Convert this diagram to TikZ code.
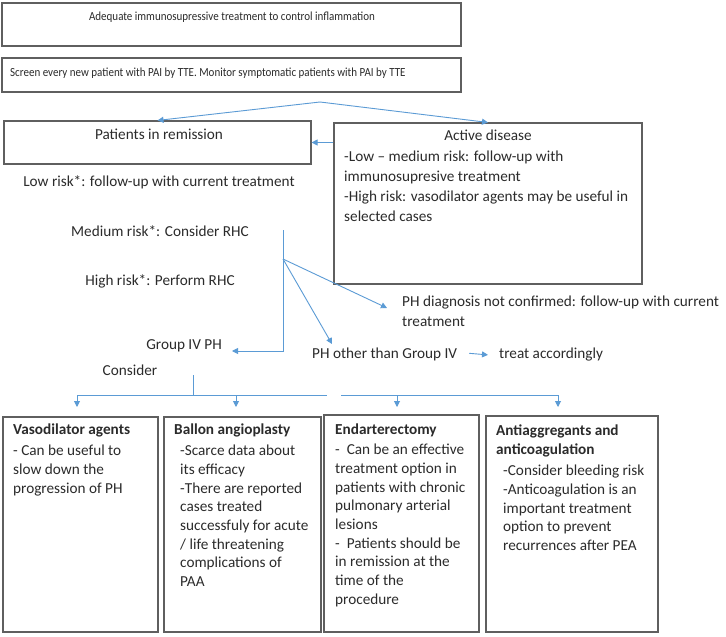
\documentclass[tikz,border=0pt]{standalone}
\usepackage{fontspec}
\setmainfont{Carlito}
\newfontfamily\condfont[FakeStretch=0.89]{Carlito}
\usetikzlibrary{arrows.meta}
\definecolor{arrowblue}{HTML}{5B9BD5}
\definecolor{boxgray}{HTML}{5F5F5F}
\definecolor{txtgray}{HTML}{2B2B2B}
\begin{document}
\begin{tikzpicture}[x=1bp,y=-1bp,
  frame/.style={draw=boxgray,line width=1.1bp,inner sep=0pt},
  conn/.style={draw=arrowblue,line width=0.9bp},
  arr/.style={conn,-{Triangle[length=6bp,width=6bp]}},
  txt/.style={text=txtgray,inner sep=0pt,font=\fontsize{15.3}{20}\selectfont},
  toptxt/.style={text=txtgray,inner sep=0pt,font=\condfont\fontsize{12.4}{15}\selectfont},
  blk/.style={text=txtgray,inner sep=0pt,align=left,anchor=north west,font=\fontsize{15.3}{18.8}\selectfont},
  ttl/.style={text=txtgray,inner sep=0pt,anchor=mid west,font=\fontsize{15.3}{18.8}\selectfont\bfseries}
]
\useasboundingbox[fill=white] (0,0) rectangle (726,637);

% top boxes
\node[frame,minimum width=459bp,minimum height=43bp] (r1) at (231.5,24.5) {};
\node[toptxt,anchor=mid] (t1) at (232,18) {Adequate immunosupressive treatment to control inflammation};
\node[frame,minimum width=459bp,minimum height=34bp] (r2) at (231.5,75) {};
\node[toptxt,anchor=mid west] (t2) at (10,74) {Screen every new patient with PAI by TTE. Monitor symptomatic patients with PAI by TTE};

% remission / active
\node[frame,minimum width=307bp,minimum height=43bp] (r3) at (157.5,142.5) {};
\node[txt,anchor=mid] (t3) at (159,137) {Patients in remission};
\node[frame,minimum width=308bp,minimum height=161bp] (r4) at (488,203.5) {};
\node[txt,anchor=mid] (t4) at (488,138) {Active disease};
\node[txt,align=left,anchor=north west] (t4b) at (344,147.5) {\strut-Low -- medium risk: follow-up with\\immunosupresive treatment\\-High risk: vasodilator agents may be useful in\\selected cases};

\coordinate (s1) at (320,102);
\draw[arr] (s1) -- (r3.north);
\draw[arr] (s1) -- (r4.north);
\draw[arr] (r4.west |- r3.east) -- (r3.east);

% risk texts
\node[txt,anchor=mid] (low) at (159,184) {Low risk*: follow-up with current treatment};
\node[txt,anchor=mid] (med) at (160,234) {Medium risk*: Consider RHC};
\node[txt,anchor=mid] (high) at (160,283) {High risk*: Perform RHC};

% RHC branching
\coordinate (v1) at (283,230);
\coordinate (fan) at (283,259);
\coordinate (corner) at (283,351);
\coordinate (g4tip) at (232,351);
\coordinate (nctip) at (387,308);
\coordinate (ottip) at (332,344);
\draw[conn] (v1) -- (fan);
\draw[arr] (fan) -- (corner) -- (g4tip);
\draw[arr] (fan) -- (nctip);
\draw[arr] (fan) -- (ottip);

\node[txt,anchor=mid east] (g4) at (222,347) {Group IV PH};
\node[txt,align=left,anchor=north west] (nc) at (402,292.5) {\strut PH diagnosis not confirmed: follow-up with current\\treatment};
\node[txt,anchor=mid west] (other) at (312,356) {PH other than Group IV};
\node[txt,anchor=mid west] (treat) at (499,356) {treat accordingly};
\draw[arr] ([xshift=12bp,yshift=1bp]other.east) -- ([xshift=-11bp,yshift=-0.5bp]treat.west);

% consider
\node[txt,anchor=mid] (cons) at (130,373) {Consider};
\coordinate (c1) at (193,375);
\coordinate (c2) at (193,395);
\coordinate (hA) at (77,395);
\coordinate (hB) at (236,395);
\coordinate (hC) at (397,395);
\coordinate (hD) at (558,395);
\coordinate (gapL) at (327,395);
\coordinate (gapR) at (341,395);
\coordinate (tA) at (77,407);
\coordinate (tB) at (236,407);
\coordinate (tC) at (397,407);
\coordinate (tD) at (558,407);
\draw[conn] (c1) -- (c2);
\draw[conn] (hA) -- (gapL);
\draw[conn] (gapR) -- (hD);
\draw[arr] (hA) -- (tA);
\draw[arr] (hB) -- (tB);
\draw[arr] (hC) -- (tC);
\draw[arr] (hD) -- (tD);

% bottom boxes
\node[frame,minimum width=155bp,minimum height=215bp] (bA) at (80.5,524.5) {};
\node[frame,minimum width=157bp,minimum height=215bp] (bB) at (242.5,524.5) {};
\node[frame,minimum width=155bp,minimum height=217bp] (bC) at (401.5,523.5) {};
\node[frame,minimum width=172bp,minimum height=216bp] (bD) at (572,524) {};

\node[ttl] (tA1) at (13,432) {Vasodilator agents};
\node[blk] (tA2) at (13,442.3) {\strut- Can be useful to\\slow down the\\progression of PH};

\node[ttl] (tB1) at (174,432) {Ballon angioplasty};
\node[blk] (tB2) at (180,442.3) {\strut-Scarce data about\\its efficacy\\-There are reported\\cases treated\\successfuly for acute\\/ life threatening\\complications of\\PAA};

\node[ttl] (tC1) at (335,432) {Endarterectomy};
\node[blk] (tC2) at (335,441.3) {\strut-\ \ Can be an effective\\treatment option in\\patients with chronic\\pulmonary arterial\\lesions\\-\ \ Patients should be\\in remission at the\\time of the\\procedure};

\node[blk,font=\fontsize{15.3}{18.8}\selectfont\bfseries] (tD1) at (496,422.3) {\strut Antiaggregants and\\anticoagulation};
\node[blk] (tD2) at (503,462.3) {\strut-Consider bleeding risk\\-Anticoagulation is an\\important treatment\\option to prevent\\recurrences after PEA};
\end{tikzpicture}
\end{document}
